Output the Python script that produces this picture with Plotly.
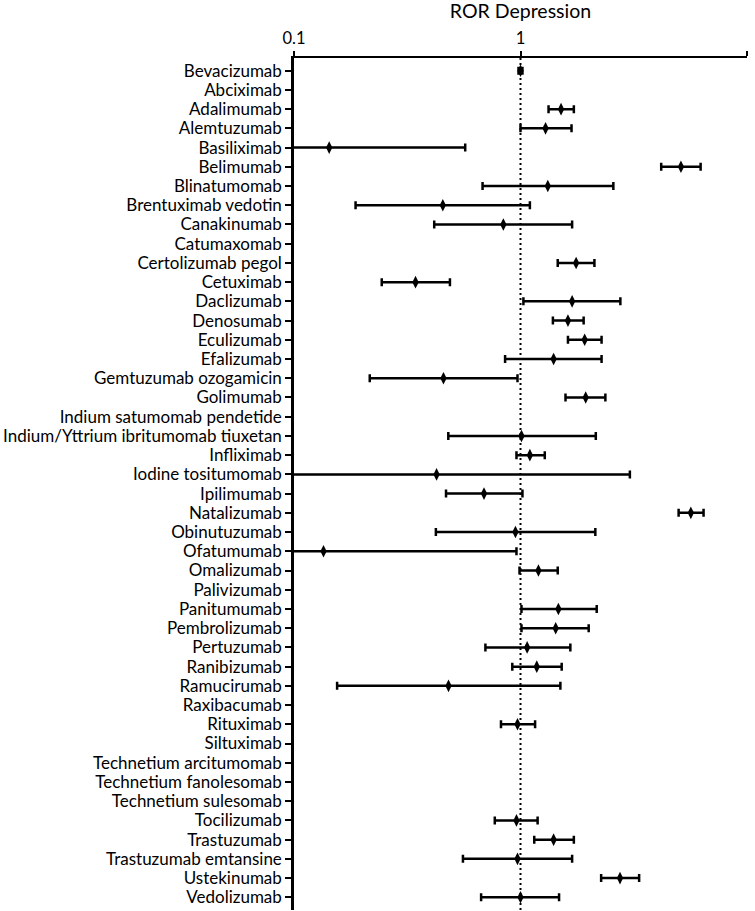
import plotly.graph_objects as go

drugs = [
    "Bevacizumab", "Abciximab", "Adalimumab", "Alemtuzumab", "Basiliximab",
    "Belimumab", "Blinatumomab", "Brentuximab vedotin", "Canakinumab", "Catumaxomab",
    "Certolizumab pegol", "Cetuximab", "Daclizumab", "Denosumab", "Eculizumab",
    "Efalizumab", "Gemtuzumab ozogamicin", "Golimumab", "Indium satumomab pendetide",
    "Indium/Yttrium ibritumomab tiuxetan", "Infliximab", "Iodine tositumomab",
    "Ipilimumab", "Natalizumab", "Obinutuzumab", "Ofatumumab", "Omalizumab",
    "Palivizumab", "Panitumumab", "Pembrolizumab", "Pertuzumab", "Ranibizumab",
    "Ramucirumab", "Raxibacumab", "Rituximab", "Siltuximab", "Technetium arcitumomab",
    "Technetium fanolesomab", "Technetium sulesomab", "Tocilizumab", "Trastuzumab",
    "Trastuzumab emtansine", "Ustekinumab", "Vedolizumab",
]

ror = [
    1.00, None, 1.51, 1.29, 0.143,
    5.11, 1.32, 0.454, 0.84, None,
    1.76, 0.344, 1.69, 1.62, 1.92,
    1.40, 0.457, 1.94, None,
    1.01, 1.10, 0.426,
    0.69, 5.65, 0.95, 0.135, 1.20,
    None, 1.47, 1.43, 1.07, 1.18,
    0.481, None, 0.97, None, None,
    None, None, 0.96, 1.40,
    0.97, 2.75, 1.00,
]

ci_low = [
    0.98, None, 1.33, 1.00, 0.09,
    4.18, 0.68, 0.187, 0.416, None,
    1.46, 0.244, 1.03, 1.39, 1.62,
    0.855, 0.216, 1.58, None,
    0.48, 0.96, 0.09,
    0.469, 4.99, 0.423, 0.09, 0.99,
    None, 1.01, 1.01, 0.70, 0.92,
    0.155, None, 0.82, None, None,
    None, None, 0.77, 1.15,
    0.557, 2.27, 0.67,
]

ci_high = [
    1.02, None, 1.72, 1.68, 0.57,
    6.24, 2.57, 1.10, 1.69, None,
    2.12, 0.488, 2.76, 1.90, 2.28,
    2.28, 0.97, 2.37, None,
    2.15, 1.28, 3.04,
    1.02, 6.43, 2.14, 0.96, 1.46,
    None, 2.17, 2.00, 1.66, 1.52,
    1.50, None, 1.16, None, None,
    None, None, 1.19, 1.72,
    1.69, 3.34, 1.48,
]

x_ticks = [0.1, 1, 10]
x_ticklabels = ["0.1", "1", "10"]

idx = list(range(len(drugs)))
xs, ys, plus, minus = [], [], [], []
for i, v, lo, hi in zip(idx, ror, ci_low, ci_high):
    if v is None:
        continue
    xs.append(v)
    ys.append(i)
    plus.append(hi - v)
    minus.append(v - lo)

FONT = "Lato, Carlito, Calibri, sans-serif"

fig = go.Figure()
fig.add_trace(go.Scatter(
    x=xs, y=ys, mode="markers",
    marker=dict(symbol="diamond-tall", size=9, color="black"),
    error_x=dict(type="data", symmetric=False, array=plus, arrayminus=minus,
                 color="black", thickness=2.5, width=4),
    showlegend=False,
))

fig.add_shape(type="line", xref="x", yref="paper", x0=1, x1=1, y0=0, y1=1,
              line=dict(color="black", width=2, dash="2px,3px"), layer="below")

fig.update_xaxes(
    type="log", side="top", range=[-1, 1],
    tickvals=x_ticks, ticktext=x_ticklabels,
    ticks="outside", ticklen=5, tickwidth=2, tickcolor="black",
    showline=True, linewidth=2, linecolor="black",
    showgrid=False, zeroline=False,
    tickfont=dict(family=FONT, size=16.5, color="black"),
)
fig.update_yaxes(
    range=[len(drugs) - 1 + 0.66, -0.66],
    tickvals=idx, ticktext=drugs,
    ticks="outside", ticklen=6, tickwidth=2, tickcolor="black",
    showline=True, linewidth=2.5, linecolor="black",
    showgrid=False, zeroline=False,
    tickfont=dict(family=FONT, size=17, color="black"),
)

fig.update_layout(
    width=755, height=911,
    margin=dict(l=294, r=8, t=58, b=1),
    plot_bgcolor="white", paper_bgcolor="white",
    title=dict(text="ROR Depression", x=0.5, xref="paper", xanchor="center",
               y=1 - 11 / 911, yref="container", yanchor="middle",
               font=dict(family=FONT, size=19.5, color="black")),
)

fig.write_html("out.html", config={"displayModeBar": False},
               post_script="document.body.style.margin='0';document.body.style.overflow='hidden';")
